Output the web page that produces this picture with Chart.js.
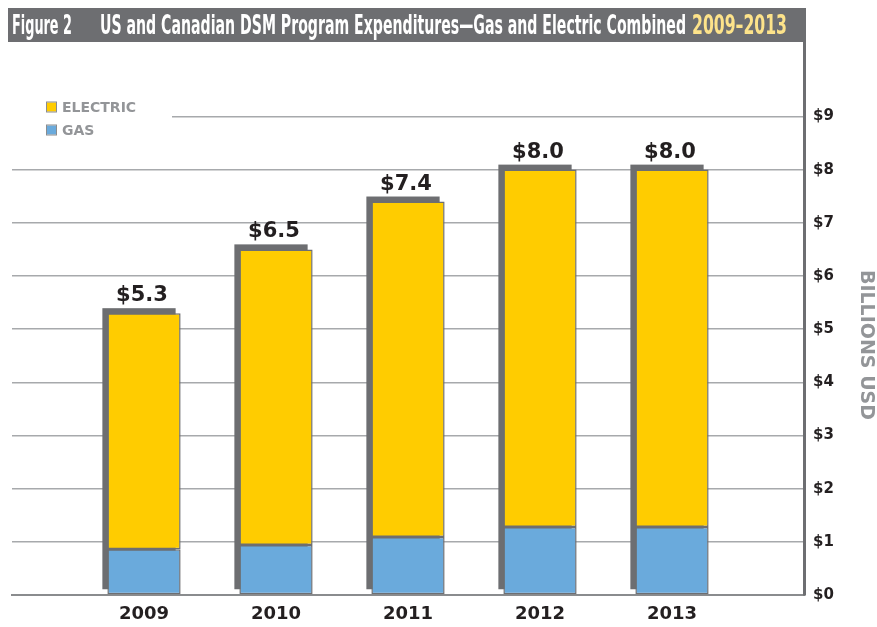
<!DOCTYPE html>
<html>
<head>
<meta charset="utf-8">
<script src="https://cdn.jsdelivr.net/npm/chart.js@4.4.1/dist/chart.umd.min.js"></script>
<style>
    html, body { margin: 0; padding: 0; background: #fff; }
    #wrap { width: 877px; height: 627px; position: relative; }
</style>
</head>
<body>
<div id="wrap"><canvas id="dsmChart" width="877" height="627"></canvas></div>
<script>
// DSM spending, billions USD
const years = ['2009', '2010', '2011', '2012', '2013'];
const gas = [0.86, 0.94, 1.09, 1.28, 1.28];
const electric = [4.44, 5.56, 6.31, 6.72, 6.72];
const yTicks = [0, 1, 2, 3, 4, 5, 6, 7, 8, 9];

const GRAY = '#6d6e71';
const YELLOW = '#ffcc00';
const BLUE = '#6aaadc';
const TEXT = '#231f20';

// padded with an empty slot on each side so the bars sit between the edges
const labels = ['', ...years, ''];
const pad = (arr) => [null, ...arr, null];

const totalAt = (i) => gas[i] + electric[i];

// squeeze a text run into a given width
function fitText(ctx, text, x, y, width) {
    const w = ctx.measureText(text).width;
    ctx.save();
    ctx.translate(x, y);
    ctx.scale(width / w, 1);
    ctx.fillText(text, 0, 0);
    ctx.restore();
}

const decorations = {
    id: 'decorations',
    beforeDraw(chart) {
        const { ctx } = chart;
        ctx.save();
        ctx.fillStyle = GRAY;
        ctx.fillRect(8, 8, 798, 34);
        ctx.font = 'bold 26px "DejaVu Sans Condensed", "Liberation Sans Narrow", sans-serif';
        ctx.textBaseline = 'alphabetic';
        ctx.textAlign = 'left';
        ctx.fillStyle = '#ffffff';
        fitText(ctx, 'Figure 2', 12, 34, 60);
        fitText(ctx, 'US and Canadian DSM Program Expenditures\u2014Gas and Electric Combined', 100, 34, 586);
        ctx.fillStyle = '#fde38a';
        fitText(ctx, '2009\u20132013', 692, 34, 95);
        ctx.restore();
    },
    beforeDatasetsDraw(chart) {
        // offset dark block behind each stack
        const { ctx } = chart;
        const gasMeta = chart.getDatasetMeta(0);
        const elecMeta = chart.getDatasetMeta(1);
        ctx.save();
        ctx.fillStyle = GRAY;
        gasMeta.data.forEach((bar, i) => {
            const top = elecMeta.data[i];
            if (gas[i - 1] === undefined) return;
            const w = bar.width;
            ctx.fillRect(bar.x - w / 2 - 5, top.y - 5, w, bar.base - top.y);
        });
        ctx.restore();
    },
    afterDatasetsDraw(chart) {
        const { ctx } = chart;
        const elecMeta = chart.getDatasetMeta(1);
        ctx.save();
        ctx.font = 'bold 21px "DejaVu Sans", sans-serif';
        ctx.fillStyle = TEXT;
        ctx.textAlign = 'center';
        ctx.textBaseline = 'alphabetic';
        elecMeta.data.forEach((bar, i) => {
            if (gas[i - 1] === undefined) return;
            ctx.fillText('$' + totalAt(i - 1).toFixed(1), bar.x - 2, bar.y - 12);
        });

        // legend over the top-left of the plot
        ctx.fillStyle = '#ffffff';
        ctx.fillRect(12, 96, 160, 44);
        const items = [
            { text: chart.data.datasets[1].label, color: YELLOW, y: 107 },
            { text: chart.data.datasets[0].label, color: BLUE, y: 130 },
        ];
        ctx.font = 'bold 14px "DejaVu Sans", sans-serif';
        ctx.textAlign = 'left';
        ctx.textBaseline = 'middle';
        items.forEach((it) => {
            ctx.fillStyle = it.color;
            ctx.fillRect(47, it.y - 4.5, 9, 9);
            ctx.strokeStyle = '#8a8c8e';
            ctx.lineWidth = 1;
            ctx.strokeRect(46.5, it.y - 5, 10, 10);
            ctx.fillStyle = '#939598';
            ctx.fillText(it.text, 62, it.y + 1);
        });

        // axis caption
        ctx.translate(866, 345);
        ctx.rotate(Math.PI / 2);
        ctx.textAlign = 'center';
        ctx.font = 'bold 19px "DejaVu Sans", sans-serif';
        ctx.fillStyle = '#939598';
        ctx.fillText('BILLIONS USD', 0, 0);
        ctx.restore();
    }
};

new Chart(document.getElementById('dsmChart').getContext('2d'), {
    type: 'bar',
    data: {
        labels: labels,
        datasets: [
            {
                label: 'GAS',
                data: pad(gas),
                backgroundColor: BLUE,
                borderColor: GRAY,
                borderWidth: 1.5,
                borderSkipped: false,
            },
            {
                label: 'ELECTRIC',
                data: pad(electric),
                backgroundColor: YELLOW,
                borderColor: GRAY,
                borderWidth: 1.5,
                borderSkipped: false,
            }
        ]
    },
    options: {
        responsive: false,
        animation: false,
        datasets: { bar: { categoryPercentage: 1, barPercentage: 0.555 } },
        layout: { padding: { left: 12, top: 42, right: 0, bottom: 0 } },
        scales: {
            x: {
                stacked: true,
                offset: false,
                grid: { display: false },
                border: { display: true, color: '#8a8c8e', width: 2 },
                ticks: {
                    color: TEXT,
                    padding: 1,
                    maxRotation: 0,
                    autoSkip: false,
                    font: { family: '"DejaVu Sans", sans-serif', size: 18, weight: 'bold' }
                },
                afterFit: (scale) => { scale.height = 32; }
            },
            y: {
                stacked: true,
                position: 'right',
                min: 0,
                max: 10.4,
                afterBuildTicks: (scale) => {
                    scale.ticks = yTicks.map((v) => ({ value: v }));
                },
                grid: { color: '#a7a9ac', lineWidth: 1.5, drawTicks: false },
                border: { color: GRAY, width: 3 },
                ticks: {
                    color: TEXT,
                    padding: 9,
                    callback: (v) => '$' + v,
                    font: { family: '"DejaVu Sans", sans-serif', size: 15, weight: 'bold' }
                },
                afterFit: (scale) => { scale.width = 73; }
            }
        },
        plugins: {
            legend: { display: false },
            tooltip: { enabled: false }
        }
    },
    plugins: [decorations]
});
</script>
</body>
</html>
